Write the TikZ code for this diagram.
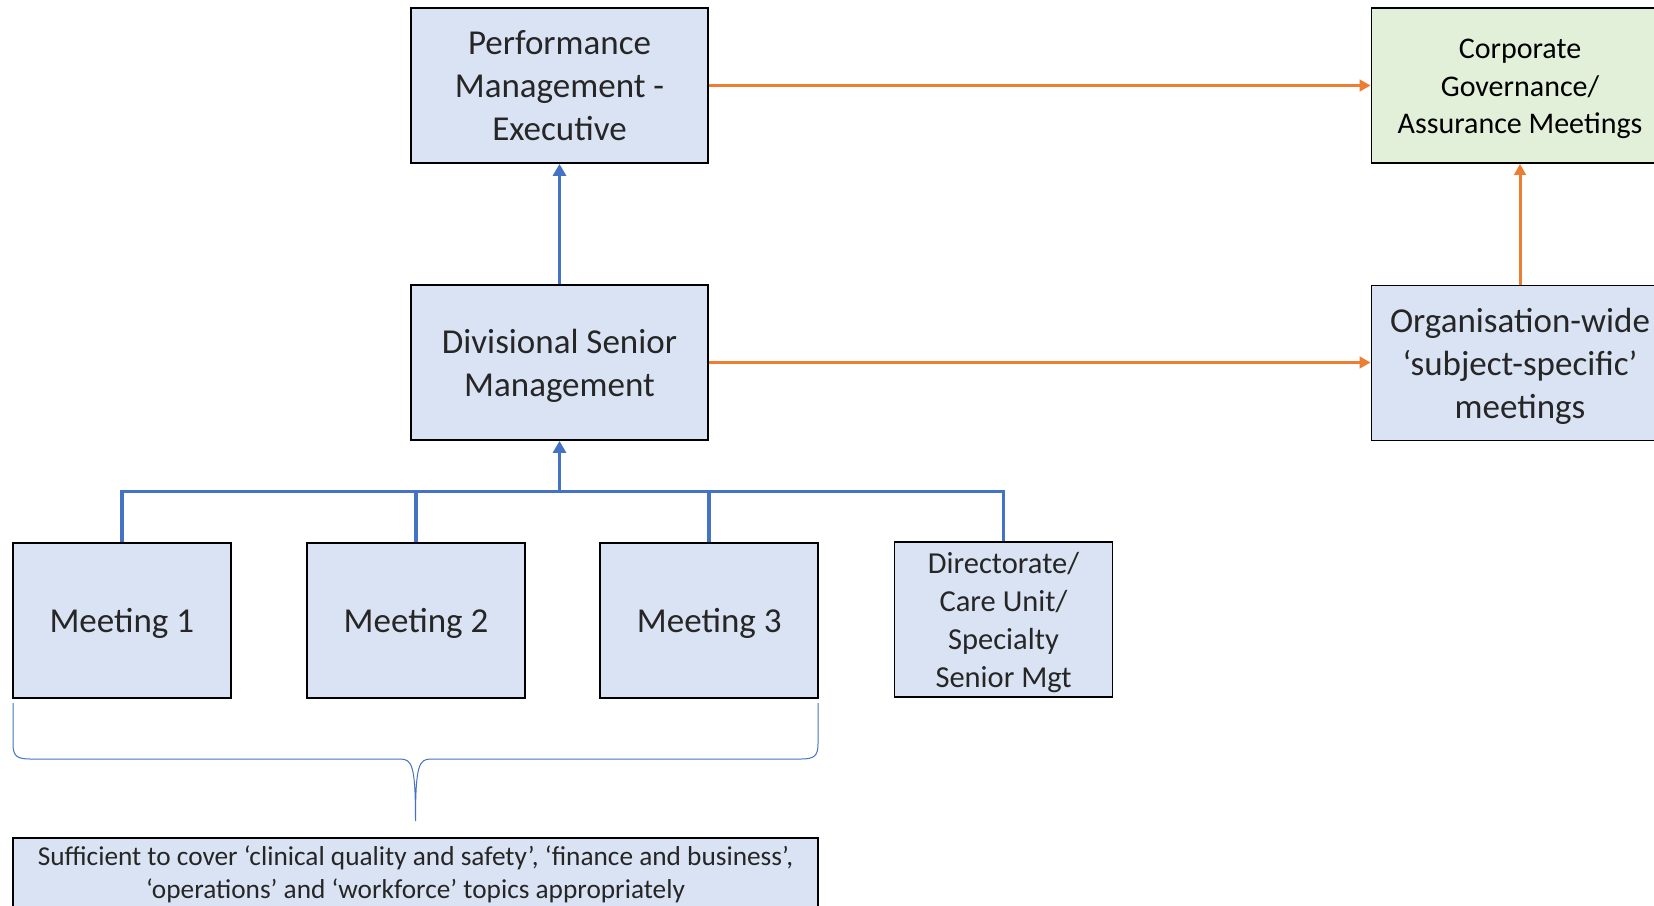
\documentclass[tikz,border=0pt]{standalone}
\usepackage{fontspec}
\setmainfont{Carlito}
\usetikzlibrary{arrows.meta}
\definecolor{boxblue}{HTML}{DAE3F3}
\definecolor{boxgreen}{HTML}{E2F0D9}
\definecolor{lineblue}{HTML}{4472C4}
\definecolor{lineorange}{HTML}{ED7D31}
\definecolor{txt}{HTML}{262626}
\newcommand\tstrut{\rule[-0.23em]{0pt}{1.16em}}
\begin{document}
\begin{tikzpicture}[x=1pt,y=-1pt,
  box/.style={draw=black, line width=1.8pt, fill=boxblue, align=center, inner sep=0pt, text=txt,
    execute at end node=\tstrut},
  bigbox/.style={box, minimum width=297pt, minimum height=155pt, font=\fontsize{35}{42.8}\selectfont},
  smallbox/.style={box, minimum width=218pt, minimum height=155pt},
  bluelink/.style={draw=lineblue, line width=3.8pt},
  bluearrow/.style={bluelink, -{Triangle[width=13pt,length=12pt]}},
  orangearrow/.style={draw=lineorange, line width=3pt, -{Triangle[width=11.5pt,length=11pt]}},
  brace/.style={draw=lineblue, line width=1pt}
]
\useasboundingbox (0,0) rectangle (1654,905);

\node[bigbox] (perf) at (559.5,85.5) {\tstrut Performance\\Management -\\Executive};
\node[bigbox] (div) at (559.5,362.5) {\tstrut Divisional Senior\\Management};
\node[bigbox, fill=boxgreen, text=black, font=\fontsize{30}{37.5}\selectfont] (corp) at (1520,85.5) {\tstrut Corporate\\Governance/\\Assurance Meetings};
\node[bigbox] (org) at (1520,363) {\tstrut Organisation-wide\\‘subject-specific’\\meetings};

\node[smallbox, font=\fontsize{35}{42.8}\selectfont] (m1) at (121.8,620.5) {\tstrut Meeting 1};
\node[smallbox, font=\fontsize{35}{42.8}\selectfont] (m2) at (416,620.5) {\tstrut Meeting 2};
\node[smallbox, font=\fontsize{35}{42.8}\selectfont] (m3) at (709.2,620.5) {\tstrut Meeting 3};
\node[smallbox, font=\fontsize{30.5}{38}\selectfont] (dir) at (1003.5,619.5) {\tstrut Directorate/\\Care Unit/\\Specialty\\Senior Mgt};

\node[box, minimum width=805pt, minimum height=69pt, font=\fontsize{27.3}{32.7}\selectfont] (note) at (415.5,872.5)
  {\tstrut Sufficient to cover ‘clinical quality and safety’, ‘finance and business’,\\‘operations’ and ‘workforce’ topics appropriately};

% bus
\coordinate (bus) at (559.5,491.5);
\draw[bluelink] (m1.north) |- (bus) -| (dir.north);
\draw[bluelink] (m2.north) -- (m2.north |- bus);
\draw[bluelink] (m3.north) -- (m3.north |- bus);
\draw[bluearrow] (bus) -- (div.south);
\draw[bluearrow] (div.north) -- (perf.south);

% orange
\draw[orangearrow] (perf.east) -- (perf.east -| corp.west);
\draw[orangearrow] (div.east) -- (div.east -| org.west);
\draw[orangearrow] (org.north) -- (corp.south);

% brace
\coordinate (bl) at (13,703);
\coordinate (br) at (818,703);
\coordinate (tip) at (415.5,821);
\draw[brace] (bl) -- (13,744) .. controls (13,756) and (17,759) .. (30,759)
  -- (400,759) .. controls (412,759) and (415.5,765) .. (tip)
  .. controls (415.5,765) and (419,759) .. (431,759)
  -- (801,759) .. controls (814,759) and (818,756) .. (818,744) -- (br);
\end{tikzpicture}
\end{document}
